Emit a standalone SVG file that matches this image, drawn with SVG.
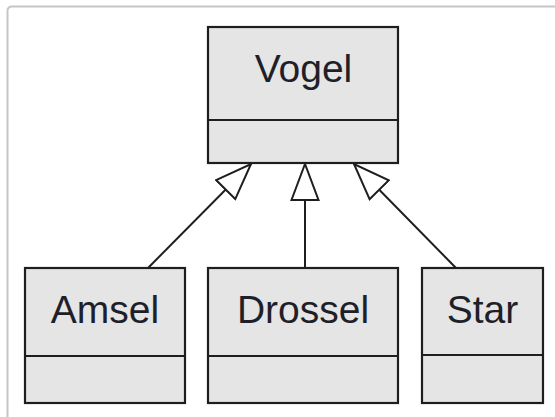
<svg xmlns="http://www.w3.org/2000/svg" width="555" height="417" viewBox="0 0 555 417">
  <style>
    .box { fill: #e5e5e5; stroke: #1e1e1e; stroke-width: 2.2; }
    .div { stroke: #1e1e1e; stroke-width: 2.2; }
    .lbl { font-family: "Liberation Sans", Arial, sans-serif; font-size: 39px; fill: #1f1f2a; text-anchor: middle; }
    .edge { stroke: #1e1e1e; stroke-width: 2; fill: none; marker-end: url(#gen); }
  </style>
  <defs>
    <marker id="gen" markerUnits="userSpaceOnUse" viewBox="0 0 38 30" refX="37" refY="15" markerWidth="38" markerHeight="30" orient="auto">
      <path d="M1,1.5 L37,15 L1,28.5 Z" fill="#ffffff" stroke="#1e1e1e" stroke-width="2" stroke-linejoin="miter"/>
    </marker>
  </defs>
  <rect x="0" y="0" width="555" height="417" fill="#ffffff"/>
  <path d="M7.5,430 L7.5,11 Q7.5,6.5 12,6.5 L570,6.5" fill="none" stroke="#c6c6c6" stroke-width="2"/>

  <g id="connectors">
    <line class="edge" x1="148" y1="268" x2="251" y2="164"/>
    <line class="edge" x1="305" y1="268" x2="305" y2="164"/>
    <line class="edge" x1="456" y1="268" x2="354" y2="164"/>
  </g>

  <g id="Vogel">
    <rect class="box" x="208" y="27" width="190" height="136"/>
    <line class="div" x1="208" y1="120" x2="398" y2="120"/>
    <text class="lbl" x="303.5" y="82">Vogel</text>
  </g>

  <g id="Amsel">
    <rect class="box" x="25" y="268" width="160" height="135"/>
    <line class="div" x1="25" y1="356" x2="185" y2="356"/>
    <text class="lbl" x="105" y="323">Amsel</text>
  </g>

  <g id="Drossel">
    <rect class="box" x="208" y="268" width="190" height="135"/>
    <line class="div" x1="208" y1="356" x2="398" y2="356"/>
    <text class="lbl" x="303" y="323">Drossel</text>
  </g>

  <g id="Star">
    <rect class="box" x="422" y="268" width="121" height="135"/>
    <line class="div" x1="422" y1="355" x2="543" y2="355"/>
    <text class="lbl" x="482.5" y="323">Star</text>
  </g>
</svg>
